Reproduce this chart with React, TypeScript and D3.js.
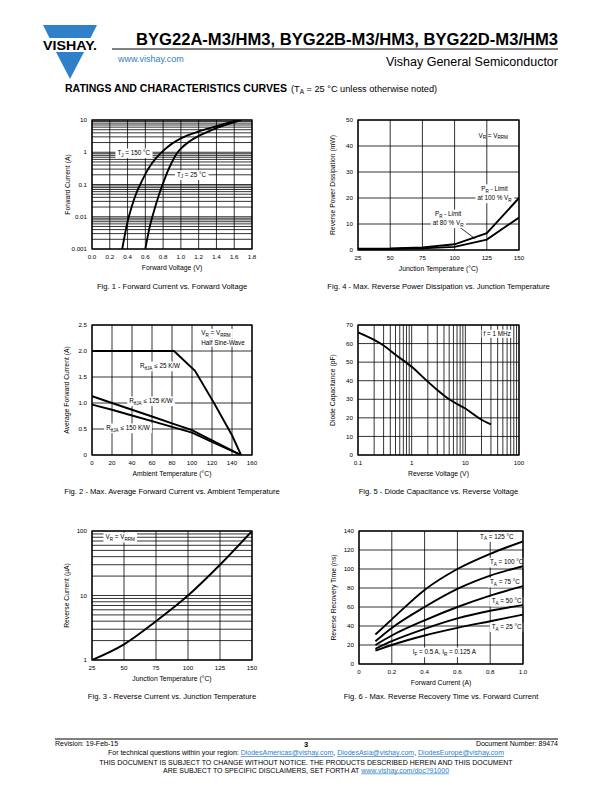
import React, { useLayoutEffect, useRef, useState } from 'react';
import * as d3 from 'd3';

type Pt = [number, number];
const FONT = "'Liberation Sans', Arial, Helvetica, sans-serif";
const BLUE = '#2f80c8';

// ---------- Fig. 1 : Forward current vs forward voltage ----------
const fig1VoltageTicks = [0, 0.2, 0.4, 0.6, 0.8, 1.0, 1.2, 1.4, 1.6, 1.8];
const fig1CurrentTicks = [0.001, 0.01, 0.1, 1, 10];
const fig1CurrentLabels = ['0.001', '0.01', '0.1', '1', '10'];
const fig1Tj150: Pt[] = [[0.34, 0.001], [0.4, 0.007], [0.45, 0.022], [0.5, 0.055], [0.55, 0.11], [0.6, 0.21], [0.65, 0.36], [0.7, 0.56], [0.75, 0.8], [0.8, 1.1], [0.9, 1.85], [1.0, 2.7], [1.2, 4.4], [1.4, 6.4], [1.64, 10]];
const fig1Tj25: Pt[] = [[0.6, 0.001], [0.65, 0.005], [0.7, 0.016], [0.75, 0.045], [0.8, 0.11], [0.85, 0.25], [0.9, 0.5], [0.95, 0.88], [1.0, 1.3], [1.1, 2.2], [1.2, 3.2], [1.4, 5.6], [1.68, 10]];

// ---------- Fig. 4 : Reverse power dissipation ----------
const fig4TempTicks = [25, 50, 75, 100, 125, 150];
const fig4PowerTicks = [0, 10, 20, 30, 40, 50];
const fig4Pr100: Pt[] = [[25, 0.5], [50, 0.6], [75, 1.0], [100, 2.2], [125, 6.5], [150, 20]];
const fig4Pr80: Pt[] = [[25, 0.3], [50, 0.4], [75, 0.7], [100, 1.2], [125, 4.0], [150, 12.5]];

// ---------- Fig. 2 : Average forward current derating ----------
const fig2TempTicks = [0, 20, 40, 60, 80, 100, 120, 140, 160];
const fig2CurrentTicks = [0, 0.5, 1.0, 1.5, 2.0, 2.5];
const fig2CurrentLabels = ['0', '0.5', '1.0', '1.5', '2.0', '2.5'];
const fig2R25: Pt[] = [[0, 2.0], [82, 2.0], [103, 1.62], [122, 1.0], [140, 0.38], [149, 0]];
const fig2R125: Pt[] = [[0, 1.13], [20, 1.0], [40, 0.87], [60, 0.74], [80, 0.61], [100, 0.48], [120, 0.28], [149, 0]];
const fig2R150: Pt[] = [[0, 0.97], [20, 0.87], [40, 0.76], [60, 0.65], [80, 0.54], [100, 0.43], [120, 0.25], [149, 0]];

// ---------- Fig. 5 : Diode capacitance ----------
const fig5VoltageTicks = [0.1, 1, 10, 100];
const fig5VoltageLabels = ['0.1', '1', '10', '100'];
const fig5CapTicks = [0, 10, 20, 30, 40, 50, 60, 70];
const fig5Cap: Pt[] = [[0.1, 66], [0.2, 62], [0.3, 59], [0.5, 54], [1, 47.5], [2, 39.5], [3, 35], [5, 30], [10, 25], [20, 19], [30, 16.5]];

// ---------- Fig. 3 : Reverse current ----------
const fig3TempTicks = [25, 50, 75, 100, 125, 150];
const fig3CurrentTicks = [1, 10, 100];
const fig3Ir: Pt[] = [[25, 1], [50, 1.75], [75, 4], [100, 10], [125, 30], [150, 100]];

// ---------- Fig. 6 : Reverse recovery time ----------
const fig6CurrentTicks = [0, 0.2, 0.4, 0.6, 0.8, 1.0];
const fig6CurrentLabels = ['0', '0.2', '0.4', '0.6', '0.8', '1.0'];
const fig6TimeTicks = [0, 20, 40, 60, 80, 100, 120, 140];
const fig6Ta125: Pt[] = [[0.1, 31], [0.2, 47], [0.4, 78], [0.6, 100], [0.8, 116], [1.0, 129]];
const fig6Ta100: Pt[] = [[0.1, 24], [0.2, 38], [0.4, 60], [0.6, 79], [0.8, 93], [1.0, 103]];
const fig6Ta75: Pt[] = [[0.1, 20], [0.2, 30], [0.4, 46], [0.6, 60], [0.8, 72], [1.0, 82]];
const fig6Ta50: Pt[] = [[0.1, 16], [0.2, 24], [0.4, 37], [0.6, 48], [0.8, 56], [1.0, 62]];
const fig6Ta25: Pt[] = [[0.1, 14], [0.2, 20], [0.4, 30], [0.6, 38], [0.8, 45], [1.0, 52]];

// ---------- helpers ----------
type Part = [string, boolean?];

function Rich({ parts, sub = 4.6, shift = 1.7 }: { parts: Part[]; sub?: number; shift?: number }) {
  let prevSub = false;
  return (
    <>
      {parts.map(([t, isSub], i) => {
        const s = !!isSub;
        const dy = s && !prevSub ? shift : !s && prevSub ? -shift : 0;
        prevSub = s;
        return (
          <tspan key={i} dy={dy} fontSize={s ? sub : undefined}>
            {t}
          </tspan>
        );
      })}
    </>
  );
}

function Label({ x, y, parts, anchor = 'middle', size = 6.3, bg = true }: { x: number; y: number; parts: Part[]; anchor?: string; size?: number; bg?: boolean }) {
  const ref = useRef<SVGTextElement>(null);
  const [bb, setBb] = useState<{ x: number; y: number; w: number; h: number } | null>(null);
  useLayoutEffect(() => {
    if (ref.current) {
      const b = ref.current.getBBox();
      setBb({ x: b.x, y: b.y, w: b.width, h: b.height });
    }
  }, []);
  return (
    <g>
      {bg && bb && <rect x={bb.x - 2} y={bb.y - 0.5} width={bb.w + 4} height={bb.h + 1} fill="#fff" />}
      <text ref={ref} x={x} y={y} textAnchor={anchor as any} fontSize={size} fontFamily={FONT} fill="#000">
        <Rich parts={parts} />
      </text>
    </g>
  );
}

type ChartProps = {
  id: string;
  x: any;
  y: any;
  xGrid: number[];
  yGrid: number[];
  xTicks: number[];
  xLabels: string[];
  yTicks: number[];
  yLabels: string[];
  series: Pt[][];
  curve: d3.CurveFactory;
  xTitle: Part[];
  yTitle: Part[];
  yTitleX: number;
  caption: string;
  captionY: number;
  children?: React.ReactNode;
};

function Chart(p: ChartProps) {
  const [x0, x1] = p.x.range();
  const [yb, yt] = p.y.range();
  const line = d3
    .line<Pt>()
    .x((d) => p.x(d[0]))
    .y((d) => p.y(d[1]))
    .curve(p.curve);
  const cx = (x0 + x1) / 2;
  return (
    <g>
      <defs>
        <clipPath id={p.id}>
          <rect x={x0} y={yt} width={x1 - x0} height={yb - yt} />
        </clipPath>
      </defs>
      {p.xGrid.map((v, i) => (
        <line key={'xg' + i} x1={p.x(v)} x2={p.x(v)} y1={yt} y2={yb} stroke="#000" strokeWidth={0.8} />
      ))}
      {p.yGrid.map((v, i) => (
        <line key={'yg' + i} x1={x0} x2={x1} y1={p.y(v)} y2={p.y(v)} stroke="#000" strokeWidth={0.8} />
      ))}
      {p.children}
      {p.series.map((s, i) => (
        <path key={'s' + i} d={line(s) || ''} fill="none" stroke="#000" strokeWidth={1.9} clipPath={`url(#${p.id})`} />
      ))}
      <rect x={x0} y={yt} width={x1 - x0} height={yb - yt} fill="none" stroke="#000" strokeWidth={1.3} />
      {p.xTicks.map((v, i) => (
        <text key={'xt' + i} x={p.x(v)} y={yb + 10} textAnchor="middle" fontSize={6.2} fontFamily={FONT} fill="#000">
          {p.xLabels[i]}
        </text>
      ))}
      {p.yTicks.map((v, i) => (
        <text key={'yt' + i} x={x0 - 5} y={p.y(v) + 2.2} textAnchor="end" fontSize={6.2} fontFamily={FONT} fill="#000">
          {p.yLabels[i]}
        </text>
      ))}
      <text x={cx} y={yb + 21} textAnchor="middle" fontSize={6.8} fontFamily={FONT} fill="#000">
        <Rich parts={p.xTitle} />
      </text>
      <text transform={`translate(${p.yTitleX},${(yb + yt) / 2}) rotate(-90)`} textAnchor="middle" fontSize={6.8} fontFamily={FONT} fill="#000">
        <Rich parts={p.yTitle} />
      </text>
      <text x={cx} y={p.captionY} textAnchor="middle" fontSize={7.6} fontFamily={FONT} fill="#000">
        {p.caption}
      </text>
    </g>
  );
}

const fmt = (a: number[]) => a.map((v) => String(v));

export default function App() {
  // Fig 1
  const x1s = d3.scaleLinear().domain([0, 1.8]).range([92, 252]);
  const y1s = d3.scaleLog().domain([0.001, 10]).range([249, 120]);
  // Fig 4
  const x4s = d3.scaleLinear().domain([25, 150]).range([358, 519]);
  const y4s = d3.scaleLinear().domain([0, 50]).range([250, 120]);
  // Fig 2
  const x2s = d3.scaleLinear().domain([0, 160]).range([92, 252]);
  const y2s = d3.scaleLinear().domain([0, 2.5]).range([455, 325]);
  // Fig 5
  const x5s = d3.scaleLog().domain([0.1, 100]).range([358, 519]);
  const y5s = d3.scaleLinear().domain([0, 70]).range([455, 325]);
  // Fig 3
  const x3s = d3.scaleLinear().domain([25, 150]).range([92, 252]);
  const y3s = d3.scaleLog().domain([1, 100]).range([660, 531]);
  // Fig 6
  const x6s = d3.scaleLinear().domain([0, 1.0]).range([359, 523]);
  const y6s = d3.scaleLinear().domain([0, 140]).range([664, 531]);

  const mono = d3.curveMonotoneX;

  return (
    <svg width={612} height={792} viewBox="0 0 612 792" style={{ position: 'absolute', left: 0, top: 0, background: '#fff' }} fontFamily={FONT}>
      <rect x={0} y={0} width={612} height={792} fill="#fff" />
      {/* Logo */}
      <polygon points="43,25 97,25 90.5,38 49.5,38" fill={BLUE} />
      <polygon points="56,52 84,52 70,79" fill={BLUE} />
      <text x={70} y={50} textAnchor="middle" fontSize={12} fontWeight="bold" fontFamily={FONT} textLength={54} lengthAdjust="spacingAndGlyphs">
        VISHAY.
      </text>
      {/* Header */}
      <text x={136} y={45} fontSize={16} fontWeight="bold" fontFamily={FONT} textLength={422} lengthAdjust="spacingAndGlyphs">
        BYG22A-M3/HM3, BYG22B-M3/HM3, BYG22D-M3/HM3
      </text>
      <line x1={112} x2={558} y1={49} y2={49} stroke="#000" strokeWidth={1} />
      <text x={118} y={62} fontSize={9} fill={BLUE} fontFamily={FONT}>
        www.vishay.com
      </text>
      <text x={558} y={66} fontSize={12.5} textAnchor="end" fontFamily={FONT}>
        Vishay General Semiconductor
      </text>
      <text x={65} y={92} fontSize={10.5} fontWeight="bold" fontFamily={FONT} textLength={222} lengthAdjust="spacingAndGlyphs">
        RATINGS AND CHARACTERISTICS CURVES
      </text>
      <text x={291} y={92} fontSize={9.2} fontFamily={FONT}>
        <Rich parts={[['(T'], ['A', true], [' = 25 °C unless otherwise noted)']]} sub={6.5} shift={2} />
      </text>

      {/* Fig 1 */}
      <Chart
        id="c1"
        x={x1s}
        y={y1s}
        xGrid={fig1VoltageTicks}
        yGrid={y1s.ticks()}
        xTicks={fig1VoltageTicks}
        xLabels={fig1VoltageTicks.map((v) => d3.format('.1f')(v))}
        yTicks={fig1CurrentTicks}
        yLabels={fig1CurrentLabels}
        series={[fig1Tj150, fig1Tj25]}
        curve={mono}
        xTitle={[['Forward Voltage (V)']]}
        yTitle={[['Forward Current (A)']]}
        yTitleX={70}
        caption="Fig. 1 - Forward Current vs. Forward Voltage"
        captionY={289}
      >
        <Label x={x1s(0.47)} y={y1s(0.95) + 2} parts={[['T'], ['J', true], [' = 150 °C']]} />
        <Label x={x1s(1.12)} y={y1s(0.2) + 2} parts={[['T'], ['J', true], [' = 25 °C']]} />
      </Chart>

      {/* Fig 4 */}
      <Chart
        id="c4"
        x={x4s}
        y={y4s}
        xGrid={fig4TempTicks}
        yGrid={fig4PowerTicks}
        xTicks={fig4TempTicks}
        xLabels={fmt(fig4TempTicks)}
        yTicks={fig4PowerTicks}
        yLabels={fmt(fig4PowerTicks)}
        series={[fig4Pr100, fig4Pr80]}
        curve={d3.curveLinear}
        xTitle={[['Junction Temperature (°C)']]}
        yTitle={[['Reverse Power Dissipation (mW)']]}
        yTitleX={335}
        caption="Fig. 4 - Max. Reverse Power Dissipation vs. Junction Temperature"
        captionY={289}
      >
        <Label x={x4s(130)} y={y4s(44) + 2} parts={[['V'], ['R', true], [' = V'], ['RRM', true]]} bg={false} />
        <Label x={x4s(131)} y={y4s(23.5) + 2} parts={[['P'], ['R', true], [' - Limit']]} />
        <Label x={x4s(131)} y={y4s(20.0) + 2} parts={[['at 100 % V'], ['R', true]]} />
        <line x1={x4s(103)} y1={y4s(9.1)} x2={x4s(116)} y2={y4s(4.3)} stroke="#000" strokeWidth={0.8} />
        <Label x={x4s(95)} y={y4s(13.8) + 2} parts={[['P'], ['R', true], [' - Limit']]} />
        <Label x={x4s(95)} y={y4s(10.4) + 2} parts={[['at 80 % V'], ['R', true]]} />
      </Chart>

      {/* Fig 2 */}
      <Chart
        id="c2"
        x={x2s}
        y={y2s}
        xGrid={fig2TempTicks}
        yGrid={fig2CurrentTicks}
        xTicks={fig2TempTicks}
        xLabels={fmt(fig2TempTicks)}
        yTicks={fig2CurrentTicks}
        yLabels={fig2CurrentLabels}
        series={[fig2R25, fig2R125, fig2R150]}
        curve={d3.curveLinear}
        xTitle={[['Ambient Temperature (°C)']]}
        yTitle={[['Average Forward Current (A)']]}
        yTitleX={69}
        caption="Fig. 2 - Max. Average Forward Current vs. Ambient Temperature"
        captionY={494}
      >
        <Label x={x2s(124)} y={y2s(2.33) + 1.5} parts={[['V'], ['R', true], [' = V'], ['RRM', true]]} />
        <Label x={x2s(131)} y={y2s(2.16) + 2.5} parts={[['Half Sine-Wave']]} />
        <Label x={x2s(68)} y={y2s(1.71) + 2} parts={[['R'], ['θJA', true], [' ≤ 25 K/W']]} />
        <Label x={x2s(59)} y={y2s(1.04) + 2} parts={[['R'], ['θJA', true], [' ≤ 125 K/W']]} />
        <Label x={x2s(36)} y={y2s(0.52) + 2} parts={[['R'], ['θJA', true], [' ≤ 150 K/W']]} />
      </Chart>

      {/* Fig 5 */}
      <Chart
        id="c5"
        x={x5s}
        y={y5s}
        xGrid={x5s.ticks()}
        yGrid={fig5CapTicks}
        xTicks={fig5VoltageTicks}
        xLabels={fig5VoltageLabels}
        yTicks={fig5CapTicks}
        yLabels={fmt(fig5CapTicks)}
        series={[fig5Cap]}
        curve={mono}
        xTitle={[['Reverse Voltage (V)']]}
        yTitle={[['Diode Capacitance (pF)']]}
        yTitleX={335}
        caption="Fig. 5 - Diode Capacitance vs. Reverse Voltage"
        captionY={494}
      >
        <Label x={x5s(70)} y={y5s(65) + 2} anchor="end" parts={[['f = 1 MHz']]} />
      </Chart>

      {/* Fig 3 */}
      <Chart
        id="c3"
        x={x3s}
        y={y3s}
        xGrid={fig3TempTicks}
        yGrid={y3s.ticks()}
        xTicks={fig3TempTicks}
        xLabels={fmt(fig3TempTicks)}
        yTicks={fig3CurrentTicks}
        yLabels={fmt(fig3CurrentTicks)}
        series={[fig3Ir]}
        curve={mono}
        xTitle={[['Junction Temperature (°C)']]}
        yTitle={[['Reverse Current (µA)']]}
        yTitleX={69}
        caption="Fig. 3 - Reverse Current vs. Junction Temperature"
        captionY={699}
      >
        <Label x={x3s(47)} y={y3s(80) + 2} parts={[['V'], ['R', true], [' = V'], ['RRM', true]]} />
      </Chart>

      {/* Fig 6 */}
      <Chart
        id="c6"
        x={x6s}
        y={y6s}
        xGrid={fig6CurrentTicks}
        yGrid={fig6TimeTicks}
        xTicks={fig6CurrentTicks}
        xLabels={fig6CurrentLabels}
        yTicks={fig6TimeTicks}
        yLabels={fmt(fig6TimeTicks)}
        series={[fig6Ta125, fig6Ta100, fig6Ta75, fig6Ta50, fig6Ta25]}
        curve={mono}
        xTitle={[['Forward Current (A)']]}
        yTitle={[['Reverse Recovery Time (ns)']]}
        yTitleX={336}
        caption="Fig. 6 - Max. Reverse Recovery Time vs. Forward Current"
        captionY={699}
      >
        <Label x={x6s(0.84)} y={y6s(134) + 2} parts={[['T'], ['A', true], [' = 125 °C']]} />
        <Label x={x6s(0.9)} y={y6s(107) + 2} parts={[['T'], ['A', true], [' = 100 °C']]} />
        <Label x={x6s(0.89)} y={y6s(86) + 2} parts={[['T'], ['A', true], [' = 75 °C']]} />
        <Label x={x6s(0.9)} y={y6s(66) + 2} parts={[['T'], ['A', true], [' = 50 °C']]} />
        <Label x={x6s(0.9)} y={y6s(39) + 2} parts={[['T'], ['A', true], [' = 25 °C']]} />
        <Label x={x6s(0.52)} y={y6s(12.6) + 2} parts={[['I'], ['F', true], [' = 0.5 A, I'], ['R', true], [' = 0.125 A']]} />
      </Chart>

      {/* Footer */}
      <line x1={55} x2={558} y1={739} y2={739} stroke="#000" strokeWidth={1} />
      <text x={55} y={746} fontSize={7} fontFamily={FONT}>Revision: 19-Feb-15</text>
      <text x={306} y={746.5} fontSize={7.5} fontWeight="bold" textAnchor="middle" fontFamily={FONT}>3</text>
      <text x={558} y={746} fontSize={7} textAnchor="end" fontFamily={FONT}>Document Number: 89474</text>
      <text x={306} y={755} fontSize={7} textAnchor="middle" fontFamily={FONT}>
        <tspan>For technical questions within your region: </tspan>
        <tspan fill={BLUE} textDecoration="underline">DiodesAmericas@vishay.com</tspan>
        <tspan>, </tspan>
        <tspan fill={BLUE} textDecoration="underline">DiodesAsia@vishay.com</tspan>
        <tspan>, </tspan>
        <tspan fill={BLUE} textDecoration="underline">DiodesEurope@vishay.com</tspan>
      </text>
      <text x={306} y={764.5} fontSize={7} textAnchor="middle" fontFamily={FONT}>
        THIS DOCUMENT IS SUBJECT TO CHANGE WITHOUT NOTICE. THE PRODUCTS DESCRIBED HEREIN AND THIS DOCUMENT
      </text>
      <text x={306} y={772.5} fontSize={7} textAnchor="middle" fontFamily={FONT}>
        <tspan>ARE SUBJECT TO SPECIFIC DISCLAIMERS, SET FORTH AT </tspan>
        <tspan fill={BLUE} textDecoration="underline">www.vishay.com/doc?91000</tspan>
      </text>
    </svg>
  );
}
